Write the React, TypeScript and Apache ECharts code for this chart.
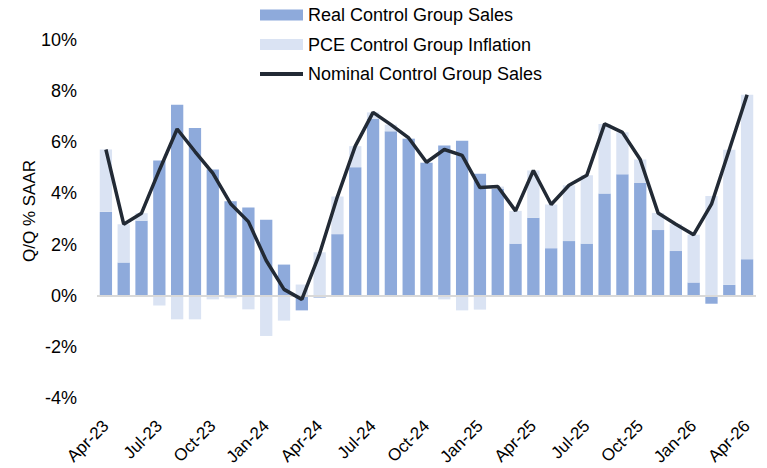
import React, { useEffect, useRef } from "react";
import * as echarts from "echarts";

const categories = [
  "Apr-23","May-23","Jun-23","Jul-23","Aug-23","Sep-23","Oct-23","Nov-23","Dec-23",
  "Jan-24","Feb-24","Mar-24","Apr-24","May-24","Jun-24","Jul-24","Aug-24","Sep-24","Oct-24","Nov-24","Dec-24",
  "Jan-25","Feb-25","Mar-25","Apr-25","May-25","Jun-25","Jul-25","Aug-25","Sep-25","Oct-25","Nov-25","Dec-25",
  "Jan-26","Feb-26","Mar-26","Apr-26",
];

const realSales = [
  3.28, 1.30, 2.93, 5.29, 7.47, 6.56, 4.94, 3.70, 3.45,
  2.97, 1.22, -0.57, -0.07, 2.41, 5.03, 6.91, 6.43, 6.13, 5.20, 5.88, 6.06,
  4.77, 4.18, 2.04, 3.05, 1.86, 2.14, 2.04, 4.00, 4.75, 4.41, 2.57, 1.75,
  0.52, -0.31, 0.43, 1.43,
];

const pceInflation = [
  2.44, 1.50, 0.30, -0.38, -0.92, -0.92, -0.14, -0.10, -0.53,
  -1.57, -0.97, 0.44, 1.70, 1.47, 0.82, 0.26, 0.26, 0.04, 0.02, -0.14, -0.57,
  -0.54, 0.09, 1.28, 1.85, 1.71, 2.18, 2.67, 2.72, 1.64, 0.92, 0.67, 1.05,
  1.87, 3.90, 5.28, 6.43,
];

const nominalSales = [
  5.72, 2.80, 3.23, 4.91, 6.52, 5.64, 4.80, 3.60, 2.90,
  1.38, 0.25, -0.14, 1.65, 3.88, 5.85, 7.17, 6.69, 6.17, 5.22, 5.72, 5.49,
  4.23, 4.27, 3.32, 4.90, 3.57, 4.32, 4.71, 6.72, 6.39, 5.33, 3.24, 2.80,
  2.39, 3.58, 5.71, 7.86,
];

const yTicks = { min: -4, max: 10, interval: 2 };

const FONT = "'Liberation Sans', Arial, sans-serif";

export default function App() {
  const ref = useRef<HTMLDivElement>(null);
  useEffect(() => {
    if (!ref.current) return;
    const chart = echarts.init(ref.current, undefined, { renderer: "svg" });
    chart.setOption({
      animation: false,
      textStyle: { fontFamily: FONT, color: "#000" },
      grid: { left: 97, right: 11, top: 40, bottom: 68 },
      legend: {
        orient: "vertical",
        left: 253,
        top: 0,
        itemWidth: 43,
        itemHeight: 11,
        itemGap: 9.5,
        textStyle: { fontSize: 18, fontFamily: FONT, color: "#000", lineHeight: 20 },
        data: [
          { name: "Real Control Group Sales", icon: "rect" },
          { name: "PCE Control Group Inflation", icon: "rect" },
          {
            name: "Nominal Control Group Sales",
            itemStyle: { opacity: 0 },
            lineStyle: { color: "#222a35", width: 4 },
          },
        ],
      },
      xAxis: {
        type: "category",
        data: categories,
        boundaryGap: true,
        axisLine: { show: false },
        axisTick: { show: false },
        axisLabel: {
          interval: 2,
          rotate: 45,
          margin: 25,
          fontSize: 17,
          fontFamily: FONT,
          color: "#000",
        },
      },
      yAxis: {
        type: "value",
        min: yTicks.min,
        max: yTicks.max,
        interval: yTicks.interval,
        axisLine: { show: false },
        axisTick: { show: false },
        splitLine: { show: false },
        axisLabel: {
          margin: 20,
          fontSize: 18,
          fontFamily: FONT,
          color: "#000",
          formatter: (v: number) => `${v}%`,
        },
      },
      graphic: [
        {
          type: "text",
          x: 29,
          y: 211,
          rotation: Math.PI / 2,
          style: {
            text: "Q/Q % SAAR",
            fontSize: 17,
            fontFamily: FONT,
            fill: "#000",
            align: "center",
            verticalAlign: "middle",
          },
        },
      ],
      series: [
        {
          name: "Real Control Group Sales",
          type: "bar",
          stack: "total",
          data: realSales,
          barCategoryGap: "31%",
          itemStyle: { color: "#8eaadb" },
          markLine: {
            silent: true,
            symbol: "none",
            label: { show: false },
            lineStyle: { color: "#d9d9d9", width: 2, type: "solid" },
            data: [{ yAxis: 0 }],
          },
        },
        {
          name: "PCE Control Group Inflation",
          type: "bar",
          stack: "total",
          data: pceInflation,
          barCategoryGap: "31%",
          itemStyle: { color: "#dae3f3" },
        },
        {
          name: "Nominal Control Group Sales",
          type: "line",
          data: nominalSales,
          symbol: "none",
          z: 5,
          lineStyle: { color: "#222a35", width: 3.5 },
          itemStyle: { color: "#222a35" },
        },
      ],
    });
    return () => chart.dispose();
  }, []);
  return (
    <div
      ref={ref}
      style={{ position: "absolute", left: 0, top: 0, width: 767, height: 468 }}
    />
  );
}
